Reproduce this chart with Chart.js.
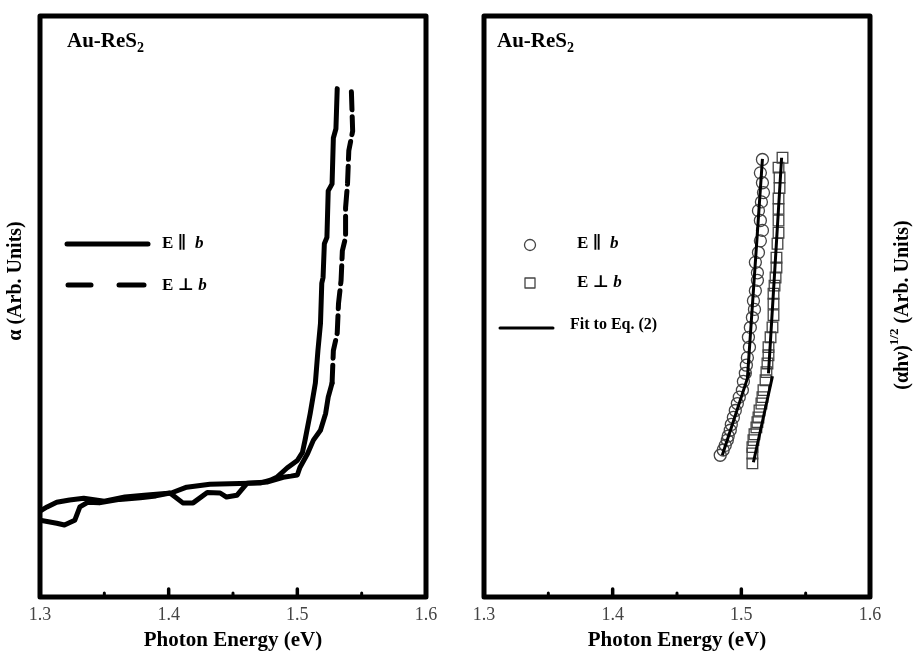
<!DOCTYPE html>
<html><head><meta charset="utf-8">
<script src="https://cdn.jsdelivr.net/npm/chart.js@4.4.0/dist/chart.umd.min.js"></script>
<style>
html,body{margin:0;padding:0;background:#fff;width:913px;height:653px;overflow:hidden;}
#c1{position:absolute;left:0;top:0;}
#c2{position:absolute;left:456px;top:0;}
</style></head><body>
<canvas id="c1" width="456" height="653"></canvas>
<canvas id="c2" width="457" height="653"></canvas>
<script>
// ---------- data ----------
const xTickLabels = ['1.3', '1.4', '1.5', '1.6'];
const majorTickValues = [1.4, 1.5];
const minorTickValues = [1.35, 1.45, 1.55];

// Left panel: absorption coefficient (arb. units)
const parE = [1.300,1.3055,1.313,1.323,1.334,1.350,1.366,1.381,1.402,1.414,1.432,1.471,1.479,1.484,1.492,1.500,1.504,1.506,1.510,1.514,1.516,1.518,1.519,1.520,1.521,1.523,1.524,1.527,1.528,1.530,1.531];
const parAlpha = [14.8,15.5,16.3,16.7,17.0,16.5,17.2,17.5,17.9,18.9,19.4,19.6,20.1,20.6,22.2,23.5,24.9,27.0,31.6,36.8,42.4,47.1,54.0,55.0,60.8,61.9,69.9,71.1,79.0,80.6,87.5];
const perpE = [1.300,1.313,1.319,1.327,1.331,1.337,1.346,1.362,1.378,1.390,1.401,1.411,1.419,1.430,1.440,1.445,1.453,1.461,1.477,1.489,1.495,1.500,1.502,1.508,1.5125,1.518,1.522,1.524,1.527,1.528,1.531,1.532,1.534,1.535,1.5375,1.5375,1.539,1.540,1.543,1.542];
const perpAlpha = [13.2,12.7,12.4,13.2,15.5,16.3,16.2,16.8,17.1,17.4,17.9,16.2,16.2,18.0,17.9,17.2,17.5,19.6,19.8,20.6,20.8,21.0,22.3,24.7,27.0,28.7,31.6,34.4,36.8,42.4,45.4,50.5,54.5,59.6,61.9,67.0,71.1,76.8,80.2,87.1];

// Right panel: (alpha h nu)^1/2 (arb. units)
const circE = [1.5164,1.5148,1.5164,1.5172,1.5156,1.5133,1.5148,1.5164,1.5148,1.5133,1.5109,1.5125,1.5125,1.5109,1.5094,1.5102,1.5086,1.5070,1.5055,1.5063,1.5047,1.5039,1.5031,1.5016,1.5008,1.4984,1.4969,1.4953,1.4938,1.4922,1.4914,1.4898,1.4891,1.4875,1.4859,1.4836];
const circY = [75.3,73.0,71.3,69.6,68.0,66.5,64.8,63.1,61.3,59.3,57.6,55.8,54.5,52.7,51.0,49.5,48.1,46.4,44.7,43.0,41.2,39.9,38.5,37.1,35.6,34.4,33.3,32.1,30.9,29.7,28.7,27.7,27.0,26.1,25.3,24.4];
const sqE = [1.5320,1.5289,1.5297,1.5297,1.5289,1.5289,1.5289,1.5289,1.5281,1.5273,1.5273,1.5266,1.5258,1.5250,1.5250,1.5250,1.5242,1.5227,1.5211,1.5211,1.5203,1.5195,1.5188,1.5172,1.5164,1.5156,1.5141,1.5133,1.5125,1.5117,1.5102,1.5094,1.5086,1.5086,1.5086];
const sqY = [75.6,73.9,72.2,70.4,68.6,66.8,64.8,62.7,60.8,58.4,56.7,55.0,53.6,52.2,50.5,48.5,46.4,44.7,43.0,41.6,40.2,38.7,37.3,35.6,34.4,33.3,32.1,30.9,30.1,29.2,28.0,27.0,25.8,24.7,23.0];
const fitParE = [1.5164,1.5047,1.5055,1.5063,1.4852];
const fitParY = [75.4,37.6,null,38.7,24.4];
const fitPerpE = [1.5313,1.5211,1.5227,1.5242,1.5094];
const fitPerpY = [75.6,38.5,null,38.0,23.2];

// ---------- helpers ----------
const SERIF = '"Liberation Serif", "DejaVu Serif", serif';
const pts = (xs, ys) => xs.map((x, i) => ({x: x, y: ys[i]}));

function rich(ctx, parts, x, y, align) {
  let w = 0;
  parts.forEach(p => { ctx.font = p[1]; w += ctx.measureText(p[0]).width; });
  let cx = align === 'center' ? x - w / 2 : x;
  parts.forEach(p => {
    ctx.font = p[1];
    ctx.fillText(p[0], cx, y + (p[2] || 0));
    cx += ctx.measureText(p[0]).width;
  });
}
function vtitle(ctx, parts, x, y) {
  ctx.save();
  ctx.translate(x, y);
  ctx.rotate(-Math.PI / 2);
  ctx.textBaseline = 'middle';
  rich(ctx, parts, 0, 0, 'center');
  ctx.restore();
}

const decor = {
  id: 'decor',
  afterDatasetsDraw(chart) {
    const o = chart.options.plugins.decor;
    const ctx = chart.ctx, a = chart.chartArea, xs = chart.scales.x;
    ctx.save();
    ctx.strokeStyle = '#000';
    ctx.fillStyle = '#000';
    ctx.lineCap = 'round';
    // inward ticks
    ctx.lineWidth = 3.5;
    majorTickValues.forEach(v => {
      const px = xs.getPixelForValue(v);
      ctx.beginPath(); ctx.moveTo(px, a.bottom); ctx.lineTo(px, a.bottom - 8); ctx.stroke();
    });
    ctx.lineWidth = 3;
    minorTickValues.forEach(v => {
      const px = xs.getPixelForValue(v);
      ctx.beginPath(); ctx.moveTo(px, a.bottom); ctx.lineTo(px, a.bottom - 4); ctx.stroke();
    });
    // frame
    ctx.lineWidth = 5;
    ctx.lineJoin = 'round';
    ctx.strokeRect(a.left, a.top, a.right - a.left, a.bottom - a.top);

    // sample label
    ctx.textBaseline = 'alphabetic';
    const bf = 'bold 21px ' + SERIF;
    rich(ctx, [['Au-ReS', bf], ['2', 'bold 14px ' + SERIF, 5]], a.left + o.labelDx, a.top + 31, 'left');

    const lf = 'bold 17px ' + SERIF;
    const lfi = 'italic bold 17px ' + SERIF;
    ctx.textBaseline = 'middle';
    if (o.panel === 'left') {
      ctx.lineWidth = 5;
      ctx.beginPath(); ctx.moveTo(67, 244); ctx.lineTo(148, 244); ctx.stroke();
      ctx.beginPath(); ctx.moveTo(68, 285); ctx.lineTo(91, 285); ctx.stroke();
      ctx.beginPath(); ctx.moveTo(119, 285); ctx.lineTo(144, 285); ctx.stroke();
      rich(ctx, [['E ', lf], ['\u2225', lf], ['  ', lf], ['b', lfi]], 162, 244, 'left');
      rich(ctx, [['E ', lf], ['\u22A5', lf], [' ', lf], ['b', lfi]], 162, 286, 'left');
      vtitle(ctx, [['\u03B1 (Arb. Units)', 'bold 20px ' + SERIF]], 16, 281);
    } else {
      ctx.strokeStyle = '#444';
      ctx.lineWidth = 1.3;
      ctx.beginPath(); ctx.arc(74, 245, 5.5, 0, Math.PI * 2); ctx.stroke();
      ctx.strokeRect(69, 278, 10, 10);
      ctx.strokeStyle = '#000';
      ctx.lineWidth = 3;
      ctx.beginPath(); ctx.moveTo(44, 328); ctx.lineTo(97, 328); ctx.stroke();
      rich(ctx, [['E ', lf], ['\u2225', lf], ['  ', lf], ['b', lfi]], 121, 244, 'left');
      rich(ctx, [['E ', lf], ['\u22A5', lf], [' ', lf], ['b', lfi]], 121, 283, 'left');
      rich(ctx, [['Fit to Eq. (2)', 'bold 16px ' + SERIF]], 114, 325, 'left');
      vtitle(ctx, [['(\u03B1h\u03BD)', 'bold 20px ' + SERIF], ['1/2', 'bold 13px ' + SERIF, -8], [' (Arb. Units)', 'bold 20px ' + SERIF]], 447, 305);
    }
    ctx.restore();
  }
};

function xScale() {
  return {
    type: 'linear', min: 1.3, max: 1.6,
    grid: {display: false, drawTicks: false},
    border: {display: false},
    ticks: {
      stepSize: 0.1,
      padding: 7,
      color: '#444',
      font: {family: SERIF, size: 18},
      callback: (v, i) => xTickLabels[i]
    },
    title: {display: true, text: 'Photon Energy (eV)', color: '#000',
            font: {family: SERIF, size: 21, weight: 'bold'}, padding: {top: 0, bottom: 0}},
    afterFit: s => { s.height = 56; }
  };
}
function yScale(pos, w) {
  return {
    type: 'linear', min: 0, max: 100, position: pos,
    grid: {display: false, drawTicks: false},
    border: {display: false},
    ticks: {display: false},
    afterFit: s => { s.width = w; }
  };
}

// ---------- left chart ----------
new Chart(document.getElementById('c1'), {
  type: 'scatter',
  data: {
    datasets: [
      {label: 'E \u2225 b', data: pts(parE, parAlpha), showLine: true, borderColor: '#000',
       borderWidth: 5, pointRadius: 0, tension: 0, borderJoinStyle: 'round', borderCapStyle: 'round'},
      {label: 'E \u22A5 b', data: pts(perpE, perpAlpha), showLine: true, borderColor: '#000',
       borderWidth: 5, pointRadius: 0, tension: 0, borderJoinStyle: 'round', borderCapStyle: 'round',
       segment: {borderDash: c => c.p0.parsed.y > 35 ? [18, 7] : undefined}}
    ]
  },
  options: {
    responsive: false, animation: false, events: [],
    layout: {padding: {top: 16, right: 30, left: 0, bottom: 0}},
    scales: {x: xScale(), y: yScale('left', 40)},
    plugins: {legend: {display: false}, tooltip: {enabled: false},
              decor: {panel: 'left', labelDx: 27}}
  },
  plugins: [decor]
});

// ---------- right chart ----------
new Chart(document.getElementById('c2'), {
  type: 'scatter',
  data: {
    datasets: [
      {label: 'Fit E \u2225 b', data: pts(fitParE, fitParY), showLine: true, spanGaps: false,
       borderColor: '#000', borderWidth: 3, pointRadius: 0, order: 0},
      {label: 'Fit E \u22A5 b', data: pts(fitPerpE, fitPerpY), showLine: true, spanGaps: false,
       borderColor: '#000', borderWidth: 3, pointRadius: 0, order: 0},
      {label: 'E \u2225 b', data: pts(circE, circY), pointStyle: 'circle', pointRadius: 6,
       borderColor: '#444', borderWidth: 1.3, backgroundColor: 'rgba(0,0,0,0)', order: 1},
      {label: 'E \u22A5 b', data: pts(sqE, sqY), pointStyle: 'rect', pointRadius: 7.5,
       borderColor: '#444', borderWidth: 1.3, backgroundColor: 'rgba(0,0,0,0)', order: 1}
    ]
  },
  options: {
    responsive: false, animation: false, events: [],
    layout: {padding: {top: 16, right: 0, left: 28, bottom: 0}},
    scales: {x: xScale(), y: yScale('right', 43)},
    plugins: {legend: {display: false}, tooltip: {enabled: false},
              decor: {panel: 'right', labelDx: 13}}
  },
  plugins: [decor]
});
</script>
</body></html>
